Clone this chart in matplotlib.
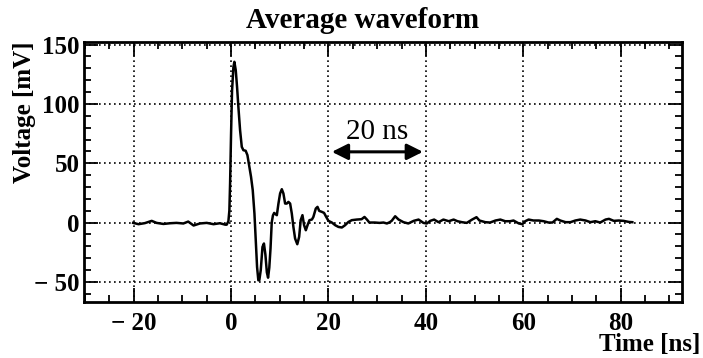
import matplotlib
matplotlib.use("Agg")
import matplotlib.pyplot as plt
from matplotlib.ticker import MultipleLocator, FuncFormatter

# ---- data ----
time_ns = [-20.1, -19.0, -17.7, -16.3, -15.3, -13.9, -12.5, -11.2, -9.8, -8.8,
           -7.7, -6.4, -5.0, -3.6, -2.3, -1.2, -0.9, -0.55, -0.35, -0.2,
           0.0, 0.2, 0.48, 0.68, 0.96, 1.23, 1.5, 1.85, 2.2, 2.53,
           3.0, 3.36, 3.7, 4.1, 4.45, 4.8, 5.07, 5.34, 5.6, 5.8,
           6.1, 6.45, 6.75, 7.05, 7.35, 7.6, 7.85, 8.1, 8.35, 8.6,
           8.85, 9.2, 9.4, 9.73, 10.07, 10.42, 10.75, 11.1, 11.45, 11.78,
           12.13, 12.47, 12.8, 13.15, 13.6, 13.98, 14.3, 14.66, 15.0, 15.35,
           15.7, 16.1, 16.6, 16.9, 17.4, 17.75, 18.1, 18.64, 19.1, 19.5,
           20.0, 20.7, 21.4, 22.05, 22.75, 23.4, 24.1, 24.8, 25.8, 26.8,
           27.4, 27.9, 28.4, 29.5, 30.5, 31.3, 32.0, 32.6, 33.0, 33.7,
           34.4, 35.4, 36.4, 37.5, 38.5, 39.5, 40.2, 40.9, 41.7, 42.6,
           43.6, 44.7, 45.7, 46.5, 47.4, 48.4, 49.5, 50.4, 51.0, 52.2,
           53.2, 54.3, 55.3, 56.3, 57.3, 58.0, 59.1, 59.8, 60.4, 61.1,
           62.1, 63.2, 64.2, 65.2, 66.0, 66.9, 67.6, 68.7, 69.7, 70.7,
           71.7, 72.8, 73.8, 74.8, 75.8, 76.9, 77.6, 78.6, 79.6, 80.6,
           81.7, 82.4]
voltage_mV = [-0.3, -1.4, -0.5, 1.4, -0.3, -1.2, -0.6, -0.3, -0.8, 0.8,
              -2.5, -0.8, -0.3, -1.4, -0.6, -1.8, -1.8, 1.0, 10.0, 33.0,
              75.0, 111.0, 131.0, 135.5, 128.5, 114.4, 97.6, 77.9, 63.8, 61.0,
              60.5, 56.8, 48.4, 38.5, 27.3, 7.6, -15.0, -37.5, -48.7, -48.7,
              -40.0, -20.6, -17.7, -27.0, -42.0, -46.5, -38.0, -22.0, 0.0, 6.0,
              8.1, 6.8, 6.2, 16.0, 24.5, 28.1, 24.5, 16.0, 16.0, 17.4,
              16.0, 7.6, -3.7, -13.5, -18.3, -12.1, 2.0, 6.2, -2.3, -6.5,
              -2.3, 2.0, 2.5, 4.7, 11.8, 13.2, 9.8, 9.0, 8.1, 5.0,
              1.4, 0.0, -2.3, -3.7, -4.2, -2.3, 0.5, 2.0, 2.5, 2.8,
              4.7, 2.5, 0.0, 0.0, -0.3, 0.0, -0.8, 0.3, 1.5, 5.3,
              2.5, 0.3, -0.8, 1.4, 2.5, -0.3, -0.8, 1.4, 2.5, 0.3,
              2.5, 1.1, 2.5, 1.1, 0.3, -0.3, 2.5, 4.5, 1.7, 0.3,
              0.0, 1.7, 2.5, 1.1, 1.1, 1.7, -0.8, -1.4, 1.1, 2.5,
              1.7, 1.7, 1.1, 0.0, 0.0, 3.1, 1.7, 0.3, 0.3, 1.7,
              2.5, 1.7, 0.3, 1.1, 0.0, 2.5, 3.1, 1.4, 1.7, 1.4,
              0.5, 0.3]

x_ticks = [-20, 0, 20, 40, 60, 80]
y_ticks = [-50, 0, 50, 100, 150]
title = "Average waveform"
x_label = "Time [ns]"
y_label = "Voltage [mV]"
arrow_start, arrow_end, arrow_level = 20.7, 39.4, 59.6
arrow_text = "20 ns"

# ---- figure ----
W, H, DPI = 703, 358, 100
fig = plt.figure(figsize=(W / DPI, H / DPI), dpi=DPI)
L, R, T, B = 84, 682, 42, 302
ax = fig.add_axes([L / W, 1 - B / H, (R - L) / W, (B - T) / H])

serif = ["Liberation Serif", "DejaVu Serif"]

ax.plot(time_ns, voltage_mV, color="black", lw=1.8, solid_joinstyle="round")

ax.set_xlim(-30.2, 92.6)
ax.set_ylim(-67, 152.2)

ax.set_xticks(x_ticks)
ax.set_yticks(y_ticks)
ax.xaxis.set_minor_locator(MultipleLocator(5))
ax.yaxis.set_minor_locator(MultipleLocator(10))

def fmt(v, pos):
    v = int(round(v))
    return ("\u2212 %d" % -v) if v < 0 else "%d" % v

ax.xaxis.set_major_formatter(FuncFormatter(fmt))
ax.yaxis.set_major_formatter(FuncFormatter(fmt))

ax.tick_params(which="both", direction="in", top=True, right=True, color="black")
ax.tick_params(which="major", length=10, width=1.3)
ax.tick_params(which="minor", length=5, width=1.3)
ax.tick_params(axis="x", which="major", pad=7)
ax.tick_params(axis="y", which="major", pad=3)

for lab in ax.get_xticklabels() + ax.get_yticklabels():
    lab.set_family(serif)
    lab.set_fontweight("bold")
    lab.set_fontsize(18)

for s in ax.spines.values():
    s.set_linewidth(2)

ax.grid(True, which="major", color="black", linestyle=(0, (1, 2.0)), lw=1.2)

ax.annotate("", xy=(arrow_end, arrow_level), xytext=(arrow_start, arrow_level),
            arrowprops=dict(arrowstyle="<|-|>", color="black", lw=2.2,
                            mutation_scale=24, shrinkA=0, shrinkB=0))
ax.text((arrow_start + arrow_end) / 2, arrow_level + 6, arrow_text,
        ha="center", va="bottom", fontsize=21, family=serif)

fig.text(363 / W, 1 - 20 / H, title, ha="center", va="center",
         fontsize=21, fontweight="bold", family=serif)
fig.text(700 / W, 1 - 345 / H, x_label, ha="right", va="center",
         fontsize=18, fontweight="bold", family=serif)
fig.text(24 / W, 1 - 112 / H, y_label, ha="center", va="center", rotation=90,
         fontsize=18, fontweight="bold", family=serif)

fig.savefig("out.png", dpi=DPI)
